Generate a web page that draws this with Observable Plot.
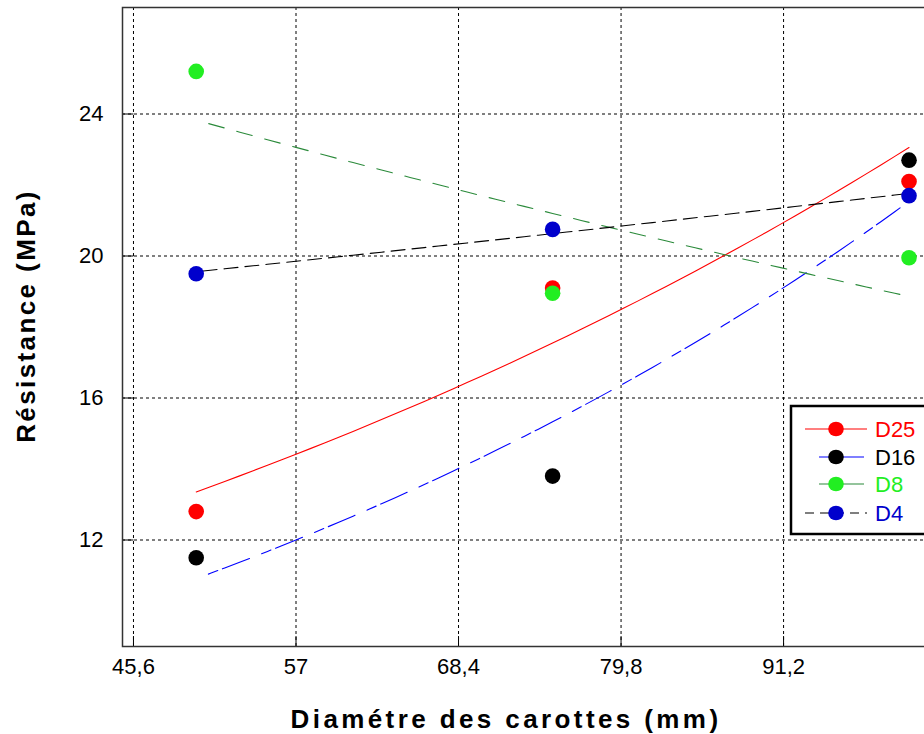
<!DOCTYPE html>
<html>
<head>
<meta charset="utf-8">
<script src="https://cdn.jsdelivr.net/npm/d3@7"></script>
<script src="https://cdn.jsdelivr.net/npm/@observablehq/plot@0.6"></script>
<style>
html, body { margin: 0; padding: 0; background: #fff; overflow: hidden; }
#wrap { position: relative; width: 924px; height: 734px; overflow: hidden; font-family: "Liberation Sans", Arial, sans-serif; }
#wrap > svg { max-width: none !important; }
#legend { position: absolute; left: 789px; top: 404px; }
</style>
</head>
<body>
<div id="wrap"></div>
<script>
// ---- data ----
const diam = [50, 75, 100];                 // Diamètre des carottes (mm)
const seriesNames = ["D25", "D16", "D8", "D4"];
const D25 = [12.8, 19.1, 22.1];
const D16 = [11.5, 13.8, 22.7];
const D8  = [25.2, 18.95, 19.95];
const D4  = [19.5, 20.75, 21.7];
const xTicks = [45.6, 57, 68.4, 79.8, 91.2];
const yTicks = [12, 16, 20, 24];
const xLabel = "Diamétre des carottes (mm)";
const yLabel = "Résistance (MPa)";

// ---- styles ----
const seriesValues = [D25, D16, D8, D4];
const dotColors  = ["#ff0000", "#000000", "#22ee22", "#0000cc"];
const lineColors = ["#ff0000", "#0000ff", "#2a8a3a", "#000000"];
const lineDash   = [null, "10,5,29,13", "16,13", "14,7"];
const lineDashOffset = [0, 44, 16, 14];
const labelColors = ["#ff0000", "#000000", "#22ee22", "#0000cc"];

const xDomain = [44.83, 103.4];
const yDomain = [9, 27];

// points table
const pts = seriesNames.flatMap((s, i) => diam.map((d, j) => ({series: s, i, x: d, y: seriesValues[i][j]})));

// exponential least-squares fit (as in the original chart's trend curves)
function expFit(xs, ys) {
  const ly = ys.map(Math.log);
  const mx = d3.mean(xs), my = d3.mean(ly);
  const b = d3.sum(xs, (x, k) => (x - mx) * (ly[k] - my)) / d3.sum(xs, x => (x - mx) ** 2);
  const a = my - b * mx;
  return x => Math.exp(a + b * x);
}
const fitXs = d3.range(0, 51).map(k => diam[0] + k * (diam[diam.length - 1] - diam[0]) / 50);
const fits = seriesNames.map((s, i) => {
  const f = expFit(diam, seriesValues[i]);
  return fitXs.map(x => ({x, y: f(x)}));
});

const fmt = d => String(d).replace(".", ",");

const marks = [
  Plot.gridX(xTicks, {stroke: "#000", strokeOpacity: 1, strokeDasharray: "3,3"}),
  Plot.gridY(yTicks, {stroke: "#000", strokeOpacity: 1, strokeDasharray: "3,3"}),
  Plot.ruleY(yTicks, {y: d => d, x1: xDomain[0], x2: xDomain[0] + 0.8, stroke: "#000"}),
  Plot.ruleX(xTicks, {x: d => d, y1: yDomain[0], y2: yDomain[0] + 0.28, stroke: "#000"}),
  Plot.frame({stroke: "#333", strokeWidth: 1.5}),
  Plot.axisX(xTicks, {tickSize: 0, tickPadding: 12, fontSize: 22, tickFormat: fmt, label: null}),
  Plot.axisY(yTicks, {tickSize: 0, tickPadding: 19, fontSize: 22, label: null}),
  ...fits.map((data, i) => Plot.line(data, {x: "x", y: "y", stroke: lineColors[i], strokeWidth: 1.1, strokeDasharray: lineDash[i], strokeDashoffset: lineDashOffset[i]})),
  ...seriesNames.map((s, i) => Plot.dot(pts.filter(p => p.i === i), {x: "x", y: "y", r: 7.8, fill: dotColors[i], stroke: "none"})),
  Plot.text([yLabel], {text: d => d, frameAnchor: "left", rotate: -90, textAnchor: "middle", lineAnchor: "bottom", dx: -88, dy: -11, fontSize: 26, fontWeight: "bold", fill: "#000"}),
  Plot.text([xLabel], {text: d => d, frameAnchor: "bottom", textAnchor: "middle", lineAnchor: "bottom", dx: -34, dy: 81, fontSize: 26, fontWeight: "bold", fill: "#000"})
];

const chart = Plot.plot({
  width: 957,
  height: 734,
  marginLeft: 122,
  marginRight: 0,
  marginTop: 7,
  marginBottom: 88,
  x: {domain: xDomain, axis: null},
  y: {domain: yDomain, axis: null},
  style: {fontFamily: "'Liberation Sans', Arial, sans-serif", background: "#fff", color: "#000", overflow: "visible"},
  marks
});
chart.style.maxWidth = "none";
d3.select(chart).selectAll("text").filter(function() { return this.textContent === xLabel; }).style("letter-spacing", "3.4px");
d3.select(chart).selectAll("text").filter(function() { return this.textContent === yLabel; }).style("letter-spacing", "2.4px");

const wrap = document.getElementById("wrap");
wrap.appendChild(chart);

// ---- legend ----
const rowY = [25, 53, 80, 109];
const lineSpan = [[16, 78], [30, 75], [30, 75], [16, 78]];
const legendLineDash = [null, null, null, "9,6"];
const leg = d3.create("svg").attr("id", "legend").attr("width", 150).attr("height", 134)
  .style("font-family", "'Liberation Sans', Arial, sans-serif");
leg.append("rect").attr("x", 2).attr("y", 2).attr("width", 200).attr("height", 128)
  .attr("fill", "#fff").attr("stroke", "#000").attr("stroke-width", 2.5);
seriesNames.forEach((s, i) => {
  const g = leg.append("g").attr("transform", `translate(0,${rowY[i]})`);
  g.append("line").attr("x1", lineSpan[i][0]).attr("x2", lineSpan[i][1]).attr("y1", 0).attr("y2", 0)
    .attr("stroke", lineColors[i]).attr("stroke-width", 1.1).attr("stroke-dasharray", legendLineDash[i]);
  g.append("ellipse").attr("cx", 47).attr("cy", 0).attr("rx", 7.8).attr("ry", 7.3).attr("fill", dotColors[i]);
  g.append("text").attr("x", 86).attr("y", 8).attr("font-size", 22).attr("fill", labelColors[i]).text(s);
});
wrap.appendChild(leg.node());
</script>
</body>
</html>
